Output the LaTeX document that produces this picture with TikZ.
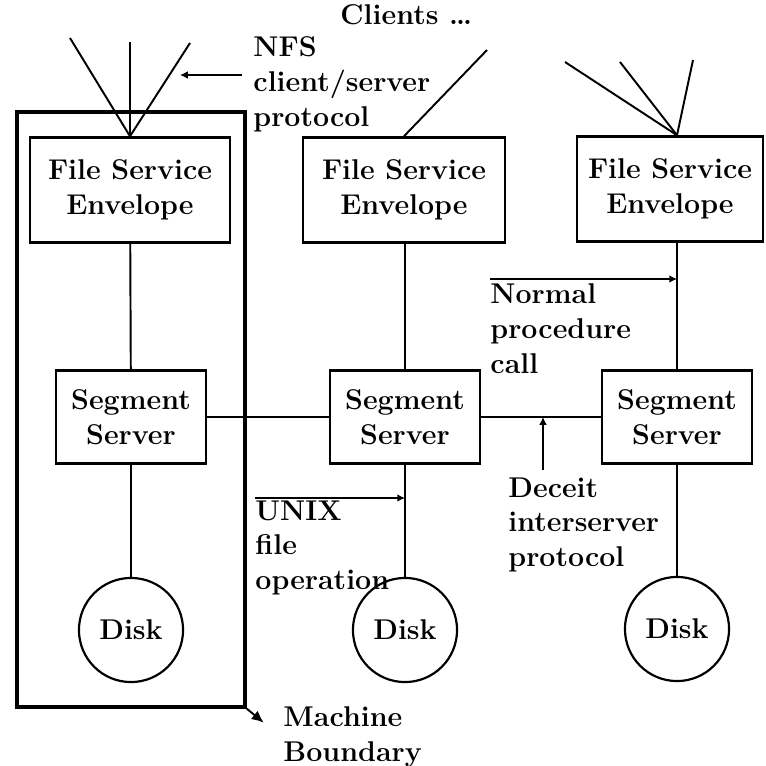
\documentclass[tikz,border=0pt]{standalone}
\usepackage{tikz}
\usetikzlibrary{positioning, calc, arrows.meta}

\begin{document}
\begin{tikzpicture}[x=0.413pt, y=-0.413pt,
	every node/.style={font=\bfseries\fontsize{11.8}{14.4}\selectfont},
	envbox/.style={draw, line width=1pt, minimum height=43.4pt, align=center},
	segbox/.style={draw, line width=1pt, minimum width=62pt, minimum height=38.4pt, align=center},
	disk/.style={draw, circle, line width=0.9pt, minimum size=43pt, inner sep=0pt},
	lbl/.style={anchor=north west, inner sep=0pt, align=left},
	conn/.style={line width=0.8pt},
	arr/.style={line width=0.8pt, -{Latex[length=3.2pt, width=3.2pt]}}]
	\useasboundingbox (0,0) rectangle (765,766);
	
	% Draw machine boundary
	\node[draw, line width=1.4pt, minimum width=94.2pt, minimum height=245.7pt] (boundary) at (131,409.5) {};
	
	% Draw file service envelopes
	\node[envbox, minimum width=82.6pt] (fse1) at (130,190) {File Service\\Envelope};
	\node[envbox, minimum width=83.4pt] (fse2) at (404,190) {File Service\\Envelope};
	\node[envbox, minimum width=76.8pt] (fse3) at (670,189) {File Service\\Envelope};
	
	% Draw segment servers
	\node[segbox] (ss1) at (131,417) {Segment\\Server};
	\node[segbox] (ss2) at (405,417) {Segment\\Server};
	\node[segbox] (ss3) at (677,417) {Segment\\Server};
	
	% Draw disks
	\node[disk] (disk1) at (131,630) {Disk};
	\node[disk] (disk2) at (405,630) {Disk};
	\node[disk] (disk3) at (677,629) {Disk};
	
	% Connections
	\draw[conn] (fse1) -- (ss1);
	\draw[conn] (fse2.south -| ss2.north) -- (ss2.north);
	\draw[conn] (fse3.south -| ss3.north) -- (ss3.north);
	\foreach \i in {1,2,3}
	\draw[conn] (ss\i) -- (disk\i);
	\draw[conn] (ss1.east) -- (ss2.west);
	\draw[conn] (ss2.east) -- (ss3.west);
	
	% Client lines
	\foreach \cx/\cy in {70/38, 130/42, 190/43}
	\draw[conn] (fse1.north) -- (\cx,\cy);
	\draw[conn] (fse2.north) -- (487,50);
	\foreach \cx/\cy in {565/62, 620/62, 693/60}
	\draw[conn] (fse3.north -| ss3.north) -- (\cx,\cy);
	
	% Labels
	\node[lbl] (clients) at (340,4) {Clients \dots};
	\node[lbl] (nfs) at (253,36) {NFS\\client/server\\protocol};
	\node[lbl] (normal) at (490,283) {Normal\\procedure\\call};
	\node[lbl] (unix) at (255,500) {UNIX\\file\\operation};
	\node[lbl] (deceit) at (508,477) {Deceit\\interserver\\protocol};
	\node[lbl] (machine) at (283,706) {Machine\\Boundary};
	
	% Arrows
	\coordinate (nfsarr) at (242,75);
	\draw[arr] (nfsarr) -- (180,75);
	\coordinate (ncall) at (490,279);
	\draw[arr] (ncall) -- (ncall -| ss3.north);
	\coordinate (ufile) at (255,498);
	\draw[arr] (ufile) -- (ufile -| ss2.south);
	\coordinate (dproto) at (543,470);
	\draw[arr] (dproto) -- (dproto |- ss2.east);
	\draw[line width=0.8pt, -{Latex[length=5pt, width=4.5pt]}] (boundary.south east) -- ++(17,14);
	
\end{tikzpicture}
\end{document}
